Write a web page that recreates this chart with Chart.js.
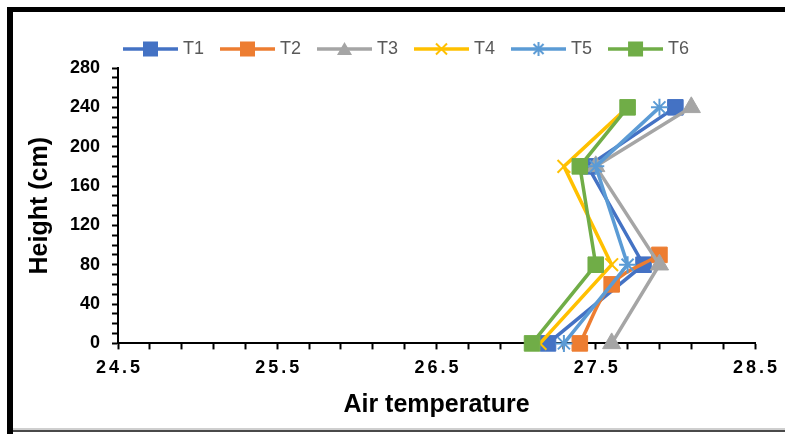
<!DOCTYPE html>
<html>
<head>
<meta charset="utf-8">
<script src="https://cdn.jsdelivr.net/npm/chart.js@4.4.1/dist/chart.umd.min.js"></script>
<style>
  html, body { margin: 0; padding: 0; background: #ffffff; }
  #wrap { width: 785px; height: 434px; }
</style>
</head>
<body>
<div id="wrap"><canvas id="c" width="785" height="434"></canvas></div>
<script>
// ---- data ----
const seriesNames = ['T1', 'T2', 'T3', 'T4', 'T5', 'T6'];
const heights = [0, 80, 180, 240];      // cm
const heightsT2 = [0, 60, 90];          // cm (T2 has fewer readings)
const tempT1 = [27.2, 27.8, 27.45, 28.0];
const tempT2 = [27.4, 27.6, 27.9];
const tempT3 = [27.6, 27.9, 27.5, 28.1];
const tempT4 = [27.15, 27.6, 27.3, 27.7];
const tempT5 = [27.3, 27.7, 27.5, 27.9];
const tempT6 = [27.1, 27.5, 27.4, 27.7];
const xTickLabels = ['24.5', '25.5', '26.5', '27.5', '28.5'];
const yTickLabels = [0, 40, 80, 120, 160, 200, 240, 280];

const colors = ['#4472C4', '#ED7D31', '#A5A5A5', '#FFC000', '#5B9BD5', '#70AD47'];
const styles = ['rect', 'rect', 'triangle', 'crossRot', 'star', 'rect'];
const radii = [11, 11, 10.5, 9, 8.5, 11];

function pts(xs, ys) { return xs.map((x, i) => ({ x: x, y: ys[i] })); }
const seriesData = [
  pts(tempT1, heights), pts(tempT2, heightsT2), pts(tempT3, heights),
  pts(tempT4, heights), pts(tempT5, heights), pts(tempT6, heights)
];

function legendIcon(color, style) {
  const cv = document.createElement('canvas');
  cv.width = 55; cv.height = 18;
  const c = cv.getContext('2d');
  c.strokeStyle = color; c.fillStyle = color; c.lineWidth = 3.5;
  c.beginPath(); c.moveTo(0, 9); c.lineTo(55, 9); c.stroke();
  const cx = 27.5, cy = 9;
  c.lineWidth = 2;
  if (style === 'rect') {
    c.fillRect(cx - 7.5, cy - 7.5, 15, 15);
  } else if (style === 'triangle') {
    c.beginPath(); c.moveTo(cx, cy - 7); c.lineTo(cx + 7.5, cy + 6); c.lineTo(cx - 7.5, cy + 6); c.closePath(); c.fill();
  } else if (style === 'crossRot') {
    c.beginPath(); c.moveTo(cx - 5.5, cy - 5.5); c.lineTo(cx + 5.5, cy + 5.5); c.moveTo(cx + 5.5, cy - 5.5); c.lineTo(cx - 5.5, cy + 5.5); c.stroke();
  } else if (style === 'star') {
    c.beginPath(); c.moveTo(cx - 5, cy - 5); c.lineTo(cx + 5, cy + 5); c.moveTo(cx + 5, cy - 5); c.lineTo(cx - 5, cy + 5);
    c.moveTo(cx, cy - 7); c.lineTo(cx, cy + 7); c.stroke();
  }
  return cv;
}
const legendIcons = colors.map((col, i) => legendIcon(col, styles[i]));

const datasets = seriesNames.map((name, i) => ({
  label: name,
  data: seriesData[i],
  showLine: true,
  borderColor: colors[i],
  backgroundColor: colors[i],
  borderWidth: 3.5,
  pointStyle: styles[i],
  pointRadius: radii[i],
  pointBorderWidth: (styles[i] === 'crossRot' || styles[i] === 'star') ? 2 : 1,
  pointBorderColor: colors[i],
  pointBackgroundColor: colors[i],
  tension: i === 1 ? 0.35 : 0,
  clip: false,
  order: seriesNames.length - 1 - i
}));

const framePlugin = {
  id: 'frame',
  beforeDraw(chart) {
    const c = chart.ctx;
    c.save();
    c.fillStyle = '#ffffff';
    c.fillRect(0, 0, chart.width, chart.height);
    c.fillStyle = '#000000';
    c.fillRect(7, 7, 6, chart.height - 7);
    c.fillRect(7, 7, chart.width - 7, 5);
    c.fillStyle = '#4a4a4a';
    c.fillRect(13, 430, chart.width - 13, 2);
    c.fillStyle = '#cfcfcf';
    c.fillRect(13, 428, chart.width - 13, 2);
    c.restore();
    const s = chart.scales.x;
    if (s && !s.__ls) {
      const orig = s.drawLabels;
      s.drawLabels = function (area) {
        const cc = this.ctx;
        const prev = cc.letterSpacing;
        cc.letterSpacing = '3px';
        cc.save();
        cc.translate(1.5, 0);
        orig.call(this, area);
        cc.restore();
        cc.letterSpacing = prev || '0px';
      };
      s.__ls = true;
    }
  },
  afterLayout(chart) {
    if (chart.legend) { chart.legend.left += 20.5; chart.legend.right += 20.5; }
  }
};

const fontFam = "'Liberation Sans', Arial, sans-serif";

new Chart(document.getElementById('c'), {
  type: 'scatter',
  data: { datasets: datasets },
  plugins: [framePlugin],
  options: {
    responsive: false,
    animation: false,
    devicePixelRatio: 1,
    events: [],
    layout: { padding: { left: 20, right: 30, top: 15, bottom: 6 } },
    plugins: {
      tooltip: { enabled: false },
      legend: {
        position: 'top',
        labels: {
          usePointStyle: true,
          pointStyleWidth: 47,
          padding: 20,
          color: '#595959',
          font: { family: fontFam, size: 18 },
          generateLabels: (chart) => seriesNames.map((name, i) => ({
            text: name,
            pointStyle: legendIcons[i],
            fillStyle: colors[i],
            strokeStyle: colors[i],
            lineWidth: 0,
            hidden: false,
            datasetIndex: i,
            fontColor: '#595959'
          }))
        }
      }
    },
    scales: {
      x: {
        type: 'linear',
        min: 24.5,
        max: 28.5,
        grid: { display: true, drawOnChartArea: false, drawTicks: true, tickLength: 6, color: '#000', tickColor: '#000', tickWidth: 2 },
        border: { display: true, color: '#000', width: 2 },
        ticks: {
          stepSize: 0.2,
          autoSkip: false,
          maxRotation: 0,
          padding: 8,
          color: '#000',
          font: { family: fontFam, size: 18, weight: 'bold' },
          callback: (v) => {
            const k = Math.round((v - 24.5) * 10);
            if (k % 10 !== 0) return '';
            const lbl = (24.5 + k / 10).toFixed(1);
            return xTickLabels.includes(lbl) ? lbl : '';
          }
        },
        title: {
          display: true,
          text: 'Air temperature',
          color: '#000',
          font: { family: fontFam, size: 25, weight: 'bold' },
          padding: { top: 3, bottom: 8 }
        }
      },
      y: {
        type: 'linear',
        min: 0,
        max: 280,
        afterFit: (scale) => { scale.width = 98; scale.paddingTop = 68; },
        grid: { display: true, drawOnChartArea: false, drawTicks: true, tickLength: 6, color: '#000', tickColor: '#000', tickWidth: 2 },
        border: { display: true, color: '#000', width: 2 },
        ticks: {
          stepSize: 10,
          autoSkip: false,
          padding: 12,
          color: '#000',
          font: { family: "'Liberation Sans Narrow', 'Liberation Sans', Arial, sans-serif", size: 18, weight: 'bold' },
          callback: (v) => yTickLabels.includes(v) ? String(v) : ''
        },
        title: {
          display: true,
          text: 'Height (cm)',
          color: '#000',
          font: { family: fontFam, size: 25, weight: 'bold' },
          padding: { top: 5, bottom: 0 }
        }
      }
    }
  }
});
</script>
</body>
</html>
